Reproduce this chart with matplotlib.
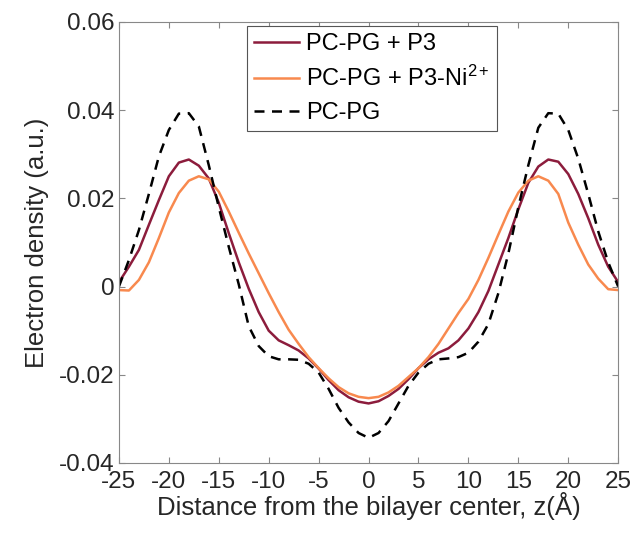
import matplotlib
matplotlib.use("Agg")
import matplotlib.pyplot as plt

plt.rcParams["font.family"] = ["Liberation Sans", "DejaVu Sans"]
plt.rcParams["mathtext.fontset"] = "custom"
plt.rcParams["mathtext.rm"] = "Liberation Sans"
plt.rcParams["mathtext.it"] = "Liberation Sans"
plt.rcParams["axes.unicode_minus"] = False

# distance from bilayer centre (Angstrom)
z = list(range(-25, 26))

# PC-PG + P3
p3 = [0.0010, 0.0045, 0.0083, 0.0140, 0.0196, 0.0250, 0.0281, 0.0288, 0.0274, 0.0245,
      0.0190, 0.0121, 0.0055, -0.0005, -0.0058, -0.0100, -0.0122, -0.0133, -0.0145, -0.0163,
      -0.0186, -0.0212, -0.0235, -0.0251, -0.0261, -0.0265, -0.0260, -0.0248, -0.0232, -0.0210,
      -0.0185, -0.0165, -0.0150, -0.0140, -0.0122, -0.0095, -0.0058, -0.0010, 0.0050, 0.0110,
      0.0175, 0.0235, 0.0272, 0.0288, 0.0283, 0.0255, 0.0210, 0.0155, 0.0095, 0.0045,
      0.0010]

# PC-PG + P3-Ni2+
p3_ni = [-0.0008, -0.0009, 0.0015, 0.0055, 0.0110, 0.0168, 0.0212, 0.0240, 0.0250, 0.0243,
         0.0215, 0.0170, 0.0122, 0.0075, 0.0030, -0.0015, -0.0058, -0.0098, -0.0130, -0.0160,
         -0.0185, -0.0208, -0.0228, -0.0242, -0.0250, -0.0253, -0.0250, -0.0240, -0.0225, -0.0205,
         -0.0185, -0.0160, -0.0130, -0.0095, -0.0060, -0.0028, 0.0015, 0.0065, 0.0118, 0.0170,
         0.0213, 0.0240, 0.0250, 0.0240, 0.0210, 0.0145, 0.0095, 0.0050, 0.0018, -0.0006,
         -0.0008]

# PC-PG
pcpg = [0.0000, 0.0060, 0.0128, 0.0210, 0.0295, 0.0355, 0.0392, 0.0393, 0.0363, 0.0275,
        0.0180, 0.0090, 0.0005, -0.0090, -0.0135, -0.0158, -0.0165, -0.0165, -0.0166, -0.0175,
        -0.0195, -0.0232, -0.0275, -0.0308, -0.0332, -0.0343, -0.0332, -0.0305, -0.0265, -0.0225,
        -0.0195, -0.0175, -0.0165, -0.0163, -0.0160, -0.0150, -0.0125, -0.0085, -0.0015, 0.0075,
        0.0180, 0.0275, 0.0360, 0.0393, 0.0392, 0.0355, 0.0290, 0.0210, 0.0125, 0.0055,
        0.0000]

xticks = list(range(-25, 26, 5))
yticks = [-0.04, -0.02, 0, 0.02, 0.04, 0.06]
ytick_labels = ["-0.04", "-0.02", "0", "0.02", "0.04", "0.06"]

fig = plt.figure(figsize=(6.36, 5.35), dpi=100)
ax = fig.add_axes([0.187, 0.1346, 0.785, 0.8245])

ax.plot(z, p3, color="#8c1c3c", lw=1.8, label="PC-PG + P3")
ax.plot(z, p3_ni, color="#f8894e", lw=1.8, label="PC-PG + P3-Ni$^{2+}$")
ax.plot(z, pcpg, color="black", lw=1.8, ls=(0, (4, 3)), label="PC-PG")

ax.set_xlim(-25, 25)
ax.set_ylim(-0.04, 0.06)
ax.set_xticks(xticks)
ax.set_yticks(yticks)
ax.set_yticklabels(ytick_labels)
ax.tick_params(direction="in", top=True, right=True, length=4, width=0.8,
               colors="#888888", labelcolor="#262626", labelsize=17.5, pad=3)
ax.tick_params(axis="x", pad=6)
for s in ax.spines.values():
    s.set_color("#888888")
    s.set_linewidth(0.8)

ax.set_xlabel("Distance from the bilayer center, z(Å)", fontsize=18.5, color="#262626", labelpad=-1)
ax.set_ylabel("Electron density (a.u.)", fontsize=18.5, color="#262626", labelpad=7)

leg = ax.legend(loc="upper left", bbox_to_anchor=(0.2565, 0.99), fontsize=17,
                frameon=True, fancybox=False, edgecolor="#555555", framealpha=1,
                handlelength=1.9, handletextpad=0.3, borderpad=0.3, labelspacing=0.45,
                borderaxespad=0)
leg.get_frame().set_linewidth(0.8)

fig.savefig("out.png", dpi=100)
